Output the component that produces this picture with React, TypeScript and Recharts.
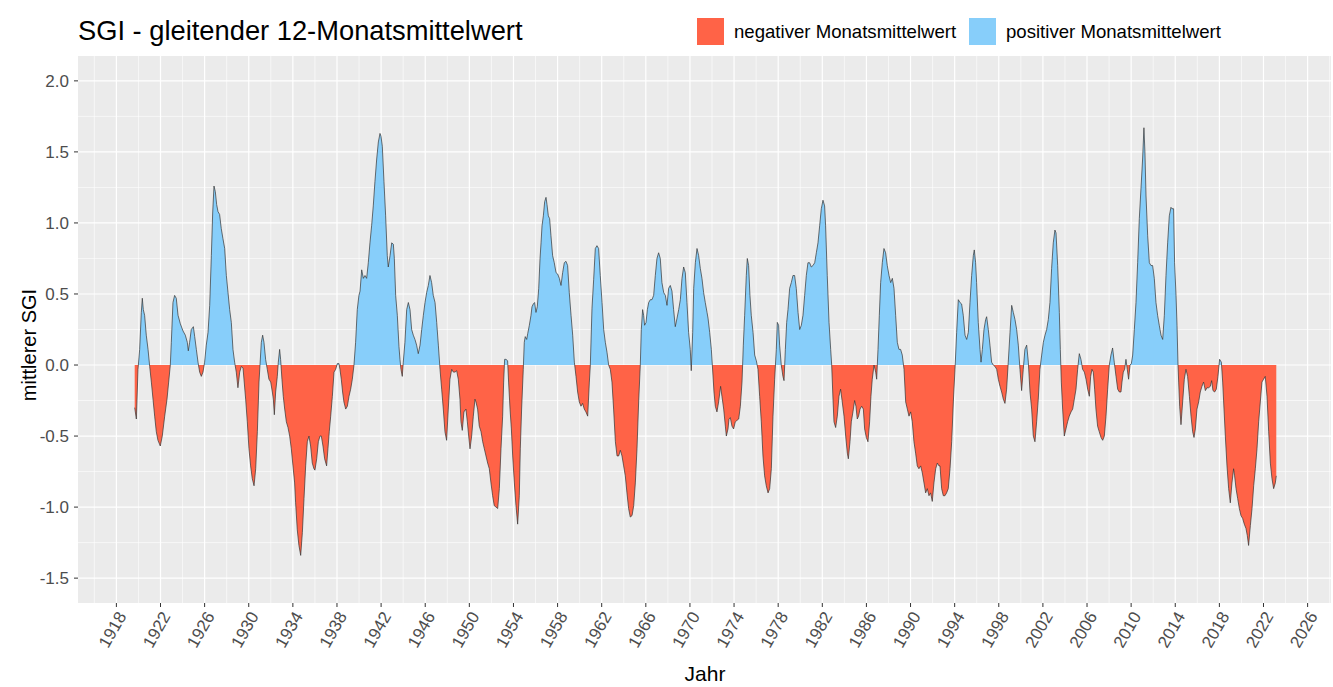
import { Area, AreaChart, CartesianGrid, XAxis, YAxis } from "recharts";

// gleitender 12-Monatsmittelwert des SGI, [Jahr, Wert]
const sgi1920s: [number, number][] = [
  [1919.66, -0.3], [1919.81, -0.38], [1919.96, -0.03], [1920.11, 0.11], [1920.26, 0.37],
  [1920.35, 0.47], [1920.44, 0.39], [1920.56, 0.35], [1920.71, 0.21], [1920.87, 0.11],
  [1921.02, -0.01], [1921.17, -0.12], [1921.32, -0.24], [1921.47, -0.36], [1921.62, -0.47],
  [1921.77, -0.53], [1921.98, -0.57], [1922.16, -0.5], [1922.38, -0.36], [1922.59, -0.24],
  [1922.74, -0.12], [1922.89, 0.0], [1922.98, 0.16], [1923.13, 0.44], [1923.28, 0.49],
  [1923.43, 0.47], [1923.59, 0.35], [1923.8, 0.29], [1924.04, 0.24], [1924.25, 0.21],
  [1924.43, 0.16], [1924.52, 0.1], [1924.64, 0.16], [1924.79, 0.25], [1924.98, 0.27],
  [1925.1, 0.2], [1925.25, 0.11], [1925.4, 0.02], [1925.55, -0.05], [1925.7, -0.08],
  [1925.85, -0.05], [1926.0, 0.02], [1926.15, 0.14], [1926.31, 0.23], [1926.46, 0.42],
  [1926.61, 0.77], [1926.73, 1.07], [1926.85, 1.26], [1926.97, 1.22], [1927.09, 1.13],
  [1927.21, 1.08], [1927.36, 1.06], [1927.51, 0.96], [1927.66, 0.89], [1927.82, 0.82],
  [1927.97, 0.63], [1928.12, 0.51], [1928.27, 0.39], [1928.42, 0.3], [1928.57, 0.11],
  [1928.72, 0.02], [1928.87, -0.05], [1929.02, -0.16], [1929.18, -0.05], [1929.33, -0.01],
  [1929.48, -0.02],
];

const sgi1930s: [number, number][] = [
  [1929.72, -0.24], [1929.87, -0.4], [1930.02, -0.59], [1930.17, -0.71], [1930.32, -0.8],
  [1930.48, -0.85], [1930.63, -0.73], [1930.78, -0.47], [1930.93, -0.12], [1931.02, 0.0],
  [1931.14, 0.16], [1931.26, 0.21], [1931.38, 0.16], [1931.53, 0.04], [1931.68, -0.03],
  [1931.83, -0.1], [1931.99, -0.12], [1932.14, -0.19], [1932.23, -0.24], [1932.32, -0.35],
  [1932.44, -0.19], [1932.59, -0.08], [1932.68, 0.02], [1932.8, 0.11], [1932.89, 0.04],
  [1933.01, -0.1], [1933.13, -0.22], [1933.26, -0.31], [1933.41, -0.4], [1933.56, -0.44],
  [1933.71, -0.5], [1933.86, -0.59], [1934.01, -0.71], [1934.16, -0.83], [1934.25, -0.97],
  [1934.4, -1.16], [1934.55, -1.27], [1934.71, -1.34], [1934.86, -1.18], [1935.01, -0.94],
  [1935.16, -0.71], [1935.31, -0.54], [1935.46, -0.5], [1935.61, -0.57], [1935.76, -0.69],
  [1935.91, -0.73], [1936.0, -0.74], [1936.16, -0.66], [1936.31, -0.54], [1936.46, -0.5],
  [1936.58, -0.5], [1936.73, -0.57], [1936.88, -0.66], [1937.06, -0.71], [1937.18, -0.59],
  [1937.3, -0.47], [1937.43, -0.36], [1937.58, -0.22], [1937.73, -0.05], [1937.88, -0.03],
  [1938.03, 0.01], [1938.18, 0.01], [1938.27, -0.03], [1938.39, -0.1], [1938.51, -0.19],
  [1938.63, -0.26], [1938.79, -0.31], [1938.94, -0.29], [1939.09, -0.22], [1939.24, -0.17],
  [1939.39, -0.1], [1939.54, 0.0], [1939.69, 0.16], [1939.84, 0.39], [1939.99, 0.49],
];

const sgi1940s: [number, number][] = [
  [1940.09, 0.52], [1940.24, 0.67], [1940.39, 0.61], [1940.54, 0.63], [1940.69, 0.61],
  [1940.84, 0.72], [1940.99, 0.86], [1941.14, 0.98], [1941.29, 1.12], [1941.44, 1.29],
  [1941.6, 1.45], [1941.75, 1.57], [1941.9, 1.63], [1941.99, 1.61], [1942.11, 1.54],
  [1942.26, 1.29], [1942.41, 1.05], [1942.56, 0.77], [1942.65, 0.69], [1942.81, 0.77],
  [1942.96, 0.86], [1943.11, 0.85], [1943.2, 0.75], [1943.32, 0.49], [1943.47, 0.35],
  [1943.62, 0.13], [1943.71, 0.04], [1943.8, -0.03], [1943.92, -0.08], [1944.01, 0.02],
  [1944.16, 0.16], [1944.32, 0.39], [1944.47, 0.44], [1944.62, 0.39], [1944.77, 0.25],
  [1944.92, 0.21], [1945.07, 0.18], [1945.22, 0.14], [1945.37, 0.08], [1945.53, 0.14],
  [1945.68, 0.25], [1945.83, 0.35], [1945.98, 0.44], [1946.13, 0.51], [1946.28, 0.56],
  [1946.43, 0.63], [1946.58, 0.58], [1946.73, 0.49], [1946.89, 0.44], [1947.04, 0.3],
  [1947.19, 0.14], [1947.34, -0.03], [1947.49, -0.17], [1947.64, -0.31], [1947.79, -0.47],
  [1947.94, -0.53], [1948.09, -0.31], [1948.24, -0.1], [1948.4, -0.03], [1948.55, -0.05],
  [1948.7, -0.05], [1948.85, -0.04], [1949.0, -0.1], [1949.15, -0.24], [1949.24, -0.4],
  [1949.36, -0.46], [1949.51, -0.33], [1949.69, -0.31], [1949.82, -0.4], [1949.94, -0.5],
  [1950.06, -0.59], [1950.21, -0.5], [1950.36, -0.36], [1950.51, -0.24],
];

const sgi1950s: [number, number][] = [
  [1950.6, -0.26], [1950.75, -0.31], [1950.9, -0.43], [1951.06, -0.47], [1951.21, -0.54],
  [1951.36, -0.59], [1951.51, -0.64], [1951.66, -0.69], [1951.81, -0.73], [1951.96, -0.83],
  [1952.11, -0.92], [1952.26, -0.99], [1952.42, -1.0], [1952.57, -1.01], [1952.72, -0.87],
  [1952.87, -0.59], [1953.02, -0.36], [1953.11, -0.12], [1953.2, 0.04], [1953.32, 0.04],
  [1953.47, 0.03], [1953.56, -0.12], [1953.69, -0.31], [1953.81, -0.45], [1953.93, -0.64],
  [1954.08, -0.83], [1954.23, -0.99], [1954.38, -1.12], [1954.53, -0.92], [1954.62, -0.59],
  [1954.74, -0.31], [1954.89, -0.03], [1954.98, 0.16], [1955.07, 0.2], [1955.2, 0.18],
  [1955.29, 0.22], [1955.44, 0.28], [1955.59, 0.35], [1955.68, 0.41], [1955.8, 0.43],
  [1955.92, 0.44], [1956.04, 0.37], [1956.16, 0.41], [1956.29, 0.54], [1956.41, 0.75],
  [1956.5, 0.86], [1956.59, 0.98], [1956.71, 1.05], [1956.83, 1.15], [1956.95, 1.18],
  [1957.04, 1.13], [1957.16, 1.05], [1957.28, 1.03], [1957.4, 0.91], [1957.55, 0.77],
  [1957.7, 0.72], [1957.86, 0.65], [1958.01, 0.64], [1958.16, 0.61], [1958.31, 0.56],
  [1958.46, 0.65], [1958.61, 0.72], [1958.76, 0.73], [1958.91, 0.7], [1959.06, 0.51],
  [1959.22, 0.35], [1959.37, 0.21], [1959.52, 0.02], [1959.67, -0.08], [1959.82, -0.19],
  [1959.97, -0.26], [1960.12, -0.29], [1960.27, -0.27], [1960.42, -0.31], [1960.57, -0.33],
  [1960.73, -0.36], [1960.88, -0.12], [1960.97, 0.0],
];

const sgi1960s: [number, number][] = [
  [1961.12, 0.4], [1961.27, 0.6], [1961.42, 0.82], [1961.57, 0.84], [1961.72, 0.82],
  [1961.87, 0.63], [1962.03, 0.44], [1962.18, 0.25], [1962.33, 0.16], [1962.48, 0.09],
  [1962.63, 0.0], [1962.78, -0.03], [1962.93, -0.12], [1963.08, -0.31], [1963.24, -0.54],
  [1963.39, -0.64], [1963.54, -0.64], [1963.69, -0.6], [1963.84, -0.64], [1963.99, -0.71],
  [1964.14, -0.78], [1964.29, -0.9], [1964.44, -1.01], [1964.59, -1.07], [1964.75, -1.06],
  [1964.9, -0.99], [1965.05, -0.83], [1965.2, -0.59], [1965.35, -0.26], [1965.5, 0.0],
  [1965.59, 0.25], [1965.71, 0.39], [1965.8, 0.35], [1965.89, 0.28], [1966.02, 0.3],
  [1966.14, 0.39], [1966.26, 0.44], [1966.41, 0.46], [1966.56, 0.46], [1966.71, 0.49],
  [1966.86, 0.63], [1967.01, 0.75], [1967.16, 0.79], [1967.31, 0.75], [1967.46, 0.58],
  [1967.62, 0.51], [1967.77, 0.49], [1967.92, 0.42], [1968.07, 0.54], [1968.22, 0.56],
  [1968.37, 0.52], [1968.52, 0.39], [1968.67, 0.27], [1968.83, 0.33], [1968.98, 0.39],
  [1969.13, 0.46], [1969.28, 0.61], [1969.43, 0.69], [1969.58, 0.65], [1969.73, 0.44],
  [1969.88, 0.23], [1970.03, 0.11], [1970.12, -0.04], [1970.25, 0.23], [1970.34, 0.54],
  [1970.49, 0.72], [1970.64, 0.82], [1970.79, 0.77], [1970.94, 0.68], [1971.09, 0.61],
  [1971.24, 0.51], [1971.39, 0.44], [1971.55, 0.37],
];

const sgi1970s: [number, number][] = [
  [1971.64, 0.33], [1971.79, 0.23], [1971.94, 0.11], [1972.03, 0.0], [1972.18, -0.19],
  [1972.3, -0.29], [1972.45, -0.33], [1972.6, -0.26], [1972.78, -0.15], [1972.9, -0.22],
  [1973.06, -0.31], [1973.21, -0.43], [1973.3, -0.5], [1973.45, -0.45], [1973.54, -0.38],
  [1973.66, -0.37], [1973.81, -0.43], [1973.96, -0.45], [1974.11, -0.4], [1974.26, -0.39],
  [1974.42, -0.38], [1974.57, -0.29], [1974.72, -0.12], [1974.84, 0.14], [1974.96, 0.35],
  [1975.11, 0.63], [1975.2, 0.75], [1975.32, 0.7], [1975.44, 0.49], [1975.56, 0.35],
  [1975.72, 0.23], [1975.87, 0.07], [1976.02, 0.03], [1976.17, -0.03], [1976.32, -0.22],
  [1976.47, -0.4], [1976.62, -0.64], [1976.77, -0.78], [1976.92, -0.85], [1977.08, -0.9],
  [1977.23, -0.87], [1977.38, -0.73], [1977.53, -0.36], [1977.68, -0.1], [1977.83, 0.11],
  [1977.92, 0.3], [1978.04, 0.28], [1978.13, 0.14], [1978.28, 0.0], [1978.43, -0.08],
  [1978.53, -0.11], [1978.65, 0.11], [1978.77, 0.3], [1978.89, 0.39], [1979.04, 0.54],
  [1979.19, 0.58], [1979.34, 0.63], [1979.49, 0.63], [1979.64, 0.54], [1979.8, 0.37],
  [1979.95, 0.25], [1980.1, 0.28], [1980.25, 0.35], [1980.4, 0.49], [1980.55, 0.63],
  [1980.7, 0.72], [1980.85, 0.72], [1981.0, 0.69], [1981.15, 0.7], [1981.31, 0.72],
  [1981.46, 0.79], [1981.61, 0.86], [1981.76, 0.98], [1981.91, 1.1], [1982.06, 1.16],
  [1982.21, 1.12],
];

const sgi1980s: [number, number][] = [
  [1982.3, 0.98], [1982.45, 0.63], [1982.61, 0.3], [1982.76, 0.11], [1982.85, 0.0],
  [1982.97, -0.24], [1983.06, -0.4], [1983.21, -0.44], [1983.36, -0.36], [1983.51, -0.22],
  [1983.66, -0.17], [1983.81, -0.26], [1983.97, -0.36], [1984.12, -0.5], [1984.27, -0.62],
  [1984.36, -0.66], [1984.51, -0.54], [1984.63, -0.4], [1984.78, -0.33], [1984.93, -0.25],
  [1985.05, -0.29], [1985.17, -0.38], [1985.29, -0.36], [1985.42, -0.31], [1985.57, -0.29],
  [1985.72, -0.31], [1985.84, -0.45], [1985.99, -0.51], [1986.14, -0.54], [1986.29, -0.4],
  [1986.41, -0.22], [1986.53, -0.1], [1986.69, 0.0], [1986.84, -0.05], [1986.93, -0.1],
  [1987.05, 0.11], [1987.17, 0.35], [1987.29, 0.58], [1987.44, 0.72], [1987.59, 0.82],
  [1987.74, 0.79], [1987.89, 0.7], [1988.05, 0.63], [1988.2, 0.58], [1988.35, 0.61],
  [1988.5, 0.54], [1988.65, 0.35], [1988.8, 0.16], [1988.95, 0.11], [1989.1, 0.11],
  [1989.25, 0.07], [1989.41, -0.03], [1989.56, -0.26], [1989.71, -0.31], [1989.86, -0.36],
  [1990.01, -0.33], [1990.16, -0.4], [1990.31, -0.54], [1990.46, -0.62], [1990.61, -0.71],
  [1990.76, -0.73], [1990.92, -0.71], [1991.07, -0.76], [1991.22, -0.83], [1991.37, -0.9],
  [1991.52, -0.87], [1991.67, -0.92], [1991.82, -0.9], [1991.97, -0.96], [1992.12, -0.83],
  [1992.28, -0.73], [1992.43, -0.69], [1992.58, -0.71],
];

const sgi1990s: [number, number][] = [
  [1992.67, -0.71], [1992.82, -0.87], [1992.97, -0.92], [1993.12, -0.92], [1993.27, -0.9],
  [1993.42, -0.87], [1993.58, -0.73], [1993.73, -0.54], [1993.88, -0.26], [1994.03, -0.03],
  [1994.18, 0.23], [1994.33, 0.46], [1994.48, 0.44], [1994.63, 0.43], [1994.78, 0.35],
  [1994.94, 0.21], [1995.09, 0.18], [1995.24, 0.23], [1995.39, 0.44], [1995.54, 0.63],
  [1995.69, 0.77], [1995.78, 0.81], [1995.9, 0.72], [1995.99, 0.58], [1996.14, 0.3],
  [1996.3, 0.11], [1996.39, 0.02], [1996.51, 0.11], [1996.66, 0.25], [1996.81, 0.32],
  [1996.9, 0.34], [1997.05, 0.25], [1997.2, 0.14], [1997.35, 0.02], [1997.5, 0.0],
  [1997.66, -0.01], [1997.81, -0.03], [1997.96, -0.1], [1998.11, -0.15], [1998.26, -0.19],
  [1998.41, -0.24], [1998.56, -0.27], [1998.71, -0.17], [1998.86, 0.02], [1999.02, 0.23],
  [1999.17, 0.42], [1999.32, 0.37], [1999.47, 0.32], [1999.62, 0.25], [1999.77, 0.14],
  [1999.92, -0.03], [2000.07, -0.18], [2000.22, -0.03], [2000.37, 0.11], [2000.53, 0.14],
  [2000.68, 0.02], [2000.83, -0.19], [2000.98, -0.31], [2001.13, -0.5], [2001.28, -0.54],
  [2001.43, -0.4], [2001.58, -0.24], [2001.73, -0.03], [2001.89, 0.07], [2002.04, 0.16],
  [2002.19, 0.21], [2002.34, 0.25], [2002.49, 0.32], [2002.64, 0.44], [2002.79, 0.68],
  [2002.94, 0.86], [2003.09, 0.95],
];

const sgi2000s: [number, number][] = [
  [2003.19, 0.93], [2003.34, 0.7], [2003.49, 0.37], [2003.58, 0.11], [2003.67, -0.12],
  [2003.79, -0.31], [2003.94, -0.5], [2004.09, -0.45], [2004.24, -0.4], [2004.39, -0.36],
  [2004.55, -0.33], [2004.7, -0.31], [2004.85, -0.24], [2005.0, -0.17], [2005.15, -0.03],
  [2005.3, 0.08], [2005.45, 0.04], [2005.6, -0.03], [2005.76, -0.05], [2005.91, -0.1],
  [2006.06, -0.17], [2006.21, -0.22], [2006.33, -0.08], [2006.45, -0.03], [2006.57, -0.05],
  [2006.69, -0.17], [2006.81, -0.31], [2006.96, -0.43], [2007.11, -0.47], [2007.27, -0.51],
  [2007.42, -0.53], [2007.57, -0.5], [2007.72, -0.36], [2007.87, -0.17], [2008.02, 0.0],
  [2008.17, 0.07], [2008.32, 0.12], [2008.47, 0.02], [2008.63, -0.08], [2008.78, -0.17],
  [2008.93, -0.19], [2009.08, -0.19], [2009.17, -0.12], [2009.29, -0.05], [2009.41, -0.03],
  [2009.53, 0.04], [2009.65, -0.03], [2009.77, -0.1], [2009.9, 0.0], [2010.02, 0.01],
  [2010.14, 0.07], [2010.29, 0.25], [2010.44, 0.44], [2010.59, 0.72], [2010.74, 1.03],
  [2010.89, 1.24], [2011.04, 1.45], [2011.16, 1.67], [2011.25, 1.5], [2011.35, 1.19],
  [2011.5, 0.91], [2011.65, 0.72], [2011.8, 0.7], [2011.95, 0.7], [2012.1, 0.61],
  [2012.25, 0.44], [2012.4, 0.35], [2012.55, 0.28], [2012.71, 0.21], [2012.86, 0.18],
  [2013.01, 0.35], [2013.16, 0.63], [2013.31, 0.86], [2013.46, 1.05], [2013.61, 1.11],
];

const sgi2010s: [number, number][] = [
  [2013.7, 1.1], [2013.85, 1.1], [2013.94, 0.72], [2014.07, 0.49], [2014.16, 0.28],
  [2014.25, 0.0], [2014.31, -0.12], [2014.4, -0.29], [2014.52, -0.42], [2014.67, -0.26],
  [2014.82, -0.1], [2014.97, -0.03], [2015.12, -0.08], [2015.28, -0.22], [2015.43, -0.36],
  [2015.58, -0.47], [2015.7, -0.51], [2015.82, -0.45], [2015.97, -0.31], [2016.12, -0.26],
  [2016.27, -0.19], [2016.42, -0.15], [2016.57, -0.12], [2016.73, -0.18], [2016.88, -0.16],
  [2017.03, -0.16], [2017.18, -0.15], [2017.3, -0.11], [2017.42, -0.18], [2017.57, -0.19],
  [2017.72, -0.17], [2017.87, -0.08], [2018.02, 0.04], [2018.18, 0.02], [2018.3, -0.12],
  [2018.42, -0.31], [2018.54, -0.5], [2018.69, -0.71], [2018.84, -0.87], [2018.99, -0.97],
  [2019.14, -0.83], [2019.29, -0.73], [2019.38, -0.78], [2019.51, -0.87], [2019.66, -0.94],
  [2019.81, -1.01], [2019.96, -1.06], [2020.11, -1.08], [2020.26, -1.12], [2020.41, -1.15],
  [2020.53, -1.2], [2020.65, -1.27], [2020.81, -1.13], [2020.96, -1.01], [2021.11, -0.85],
  [2021.26, -0.73], [2021.41, -0.59], [2021.56, -0.4], [2021.71, -0.26], [2021.86, -0.12],
  [2022.01, -0.1], [2022.16, -0.08], [2022.32, -0.22], [2022.47, -0.47], [2022.62, -0.69],
  [2022.77, -0.8], [2022.92, -0.87], [2023.07, -0.83], [2023.16, -0.78],
];

const yearTicks = [1918, 1922, 1926, 1930, 1934, 1938, 1942, 1946, 1950, 1954, 1958, 1962, 1966, 1970, 1974, 1978, 1982, 1986, 1990, 1994, 1998, 2002, 2006, 2010, 2014, 2018, 2022, 2026];
const yearMinor = [1916, 1920, 1924, 1928, 1932, 1936, 1940, 1944, 1948, 1952, 1956, 1960, 1964, 1968, 1972, 1976, 1980, 1984, 1988, 1992, 1996, 2000, 2004, 2008, 2012, 2016, 2020, 2024, 2028];
const sgiTicks = [-1.5, -1, -0.5, 0, 0.5, 1, 1.5, 2];
const sgiMinor = [-1.25, -0.75, -0.25, 0.25, 0.75, 1.25, 1.75];

const NEG = "#FF6347";
const POS = "#87CEFA";
const FONT = "'Liberation Sans', Arial, sans-serif";

const data = [
  ...sgi1920s, ...sgi1930s, ...sgi1940s, ...sgi1950s, ...sgi1960s,
  ...sgi1970s, ...sgi1980s, ...sgi1990s, ...sgi2000s, ...sgi2010s,
].map(([year, sgi]) => ({ year, sgi }));

const XTick = ({ x, y, payload }: any) => (
  <text
    x={x}
    y={y}
    dy="0.72em"
    textAnchor="end"
    transform={`rotate(-60, ${x}, ${y})`}
    fill="#4D4D4D"
    fontSize={17}
    fontFamily={FONT}
  >
    {payload.value}
  </text>
);

export default function App() {
  const maxV = Math.max(...data.map((d) => d.sgi));
  const minV = Math.min(...data.map((d) => d.sgi));
  const split = maxV / (maxV - minV);

  return (
    <div style={{ position: "absolute", left: 0, top: 0, width: 1333, height: 687, background: "#fff", fontFamily: FONT }}>
      <AreaChart width={1333} height={687} data={data} margin={{ top: 56, right: 2, bottom: 0, left: 0 }}>
        <defs>
          <linearGradient id="sgiSplit" x1="0" y1="0" x2="0" y2="1">
            <stop offset={split} stopColor={POS} />
            <stop offset={split} stopColor={NEG} />
          </linearGradient>
        </defs>
        <CartesianGrid fill="#EBEBEB" stroke="#FFFFFF" strokeWidth={0.6} verticalValues={yearMinor} horizontalValues={sgiMinor} />
        <CartesianGrid stroke="#FFFFFF" strokeWidth={1.2} verticalValues={yearTicks} horizontalValues={sgiTicks} />
        <XAxis
          type="number"
          dataKey="year"
          domain={[1914.52, 2028.12]}
          allowDataOverflow
          ticks={yearTicks}
          interval={0}
          height={84}
          tickSize={4}
          tickMargin={3}
          axisLine={false}
          tickLine={{ stroke: "#333333" }}
          tick={<XTick />}
        />
        <YAxis
          type="number"
          domain={[-1.675, 2.175]}
          allowDataOverflow
          ticks={sgiTicks}
          interval={0}
          width={78}
          tickSize={4}
          tickMargin={5}
          axisLine={false}
          tickLine={{ stroke: "#333333" }}
          tickFormatter={(v: number) => v.toFixed(1)}
          tick={{ fill: "#4D4D4D", fontSize: 17, fontFamily: FONT }}
        />
        <Area
          type="linear"
          dataKey="sgi"
          baseValue={0}
          stroke="#333333"
          strokeWidth={0.7}
          fill="url(#sgiSplit)"
          fillOpacity={1}
          dot={false}
          activeDot={false}
          isAnimationActive={false}
        />
      </AreaChart>
      <svg width={1333} height={687} style={{ position: "absolute", left: 0, top: 0, pointerEvents: "none" }}>
        <text x={78} y={40} fontSize={27.3} fill="#000" fontFamily={FONT}>
          SGI - gleitender 12-Monatsmittelwert
        </text>
        <rect x={697} y={18} width={27} height={27} fill={NEG} />
        <text x={734} y={38} fontSize={18.6} fill="#000" fontFamily={FONT}>
          negativer Monatsmittelwert
        </text>
        <rect x={969} y={18} width={27} height={27} fill={POS} />
        <text x={1006} y={38} fontSize={18.6} fill="#000" fontFamily={FONT}>
          positiver Monatsmittelwert
        </text>
        <text x={36} y={345} fontSize={20} fill="#000" fontFamily={FONT} textAnchor="middle" transform="rotate(-90, 36, 345)">
          mittlerer SGI
        </text>
        <text x={705} y={681} fontSize={21} fill="#000" fontFamily={FONT} textAnchor="middle">
          Jahr
        </text>
      </svg>
    </div>
  );
}
